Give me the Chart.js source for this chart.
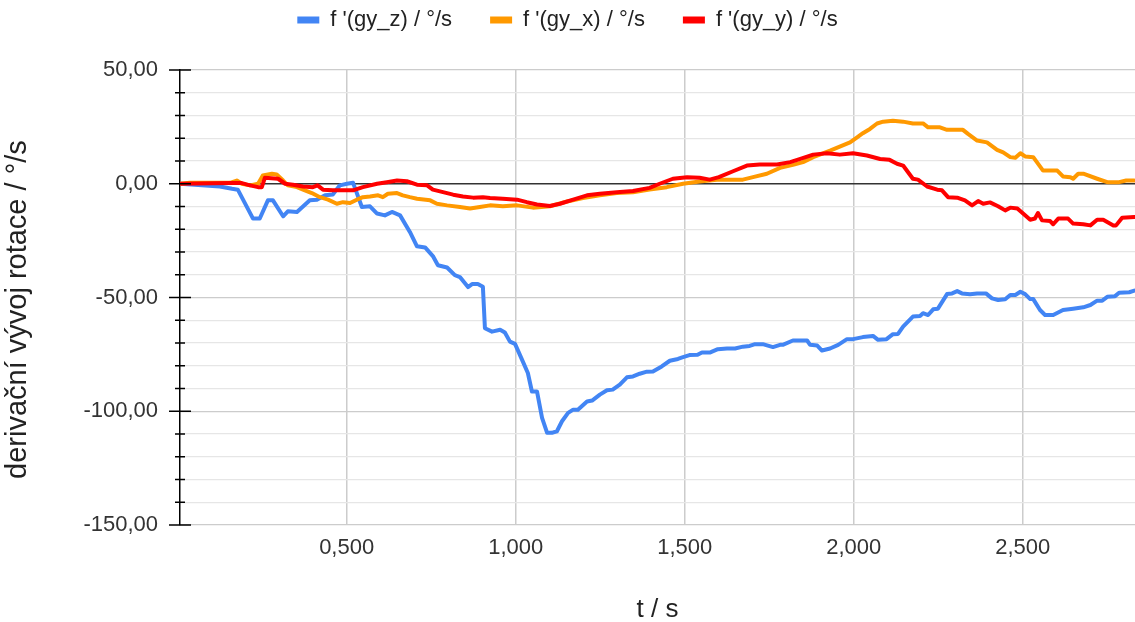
<!DOCTYPE html>
<html>
<head>
<meta charset="utf-8">
<script src="https://cdn.jsdelivr.net/npm/chart.js@4.4.1/dist/chart.umd.min.js"></script>
<style>
  html, body { margin: 0; padding: 0; background: #fff; }
  #c { display: block; }
</style>
</head>
<body>
<canvas id="c" width="1135" height="622"></canvas>
<script>
// ---- data (t in s, values in °/s) ----
const seriesNames = ["f '(gy_z) / °/s", "f '(gy_x) / °/s", "f '(gy_y) / °/s"];

const tZ = [0.007,0.125,0.161,0.178,0.223,0.243,0.267,0.282,0.312,0.326,0.353,0.391,0.412,0.436,0.459,0.480,0.501,0.519,0.545,0.569,0.590,0.613,0.634,0.658,0.687,0.708,0.732,0.755,0.770,0.797,0.820,0.835,0.859,0.871,0.888,0.903,0.909,0.930,0.954,0.968,0.983,0.998,1.019,1.036,1.048,1.063,1.078,1.093,1.107,1.122,1.137,1.155,1.170,1.184,1.211,1.226,1.249,1.270,1.287,1.308,1.329,1.347,1.367,1.388,1.406,1.432,1.456,1.480,1.495,1.514,1.538,1.551,1.574,1.598,1.625,1.649,1.672,1.692,1.708,1.731,1.761,1.782,1.790,1.820,1.862,1.871,1.892,1.906,1.930,1.954,1.980,1.998,2.027,2.057,2.072,2.097,2.116,2.131,2.146,2.175,2.196,2.205,2.220,2.235,2.249,2.276,2.291,2.306,2.320,2.344,2.365,2.391,2.409,2.427,2.448,2.463,2.478,2.493,2.507,2.522,2.531,2.551,2.566,2.590,2.619,2.649,2.679,2.700,2.720,2.735,2.750,2.773,2.785,2.815,2.830];
const gyZ = [0,-1.2,-2.2,-2.6,-15.3,-15.3,-7.3,-7.3,-14.3,-12.1,-12.4,-7.3,-7.0,-5.1,-4.7,-0.7,0,0.4,-10.2,-9.9,-13.1,-13.9,-12.4,-13.9,-21.2,-27.5,-28.0,-31.8,-35.8,-36.8,-40.2,-41.0,-45.4,-44.1,-44.1,-45.3,-63.5,-65.0,-64.2,-65.4,-69.4,-70.4,-77.4,-83.2,-91.3,-91.3,-102.9,-109.5,-109.5,-108.8,-104.4,-100.7,-99.3,-99.3,-95.7,-95.3,-92.7,-90.8,-90.5,-88.3,-85.1,-84.7,-83.5,-82.6,-82.5,-80.3,-77.8,-77.0,-76.2,-75.3,-75.2,-74.2,-74.2,-72.7,-72.4,-72.4,-71.6,-71.3,-70.5,-70.5,-71.8,-70.8,-70.8,-68.9,-68.9,-70.8,-71.1,-73.3,-72.4,-70.8,-68.3,-68.3,-67.4,-66.9,-68.6,-68.3,-66.1,-66.0,-62.8,-58.4,-58.1,-56.9,-57.7,-55.2,-54.9,-48.5,-48.2,-47.2,-48.2,-48.6,-48.2,-48.2,-50.4,-51.1,-50.8,-48.9,-48.9,-47.5,-48.5,-50.7,-50.7,-55.5,-57.7,-57.7,-55.5,-54.9,-54.3,-53.3,-51.4,-51.4,-49.7,-49.4,-47.9,-47.7,-47.0];

const tX = [0.007,0.036,0.155,0.175,0.190,0.214,0.238,0.252,0.279,0.293,0.312,0.326,0.353,0.371,0.397,0.421,0.445,0.471,0.489,0.510,0.530,0.548,0.569,0.593,0.607,0.622,0.649,0.666,0.687,0.708,0.747,0.767,0.797,0.835,0.865,0.894,0.924,0.962,1.004,1.051,1.101,1.152,1.199,1.249,1.299,1.347,1.396,1.447,1.495,1.544,1.595,1.672,1.702,1.743,1.782,1.820,1.850,1.880,1.909,1.930,1.989,2.010,2.027,2.048,2.069,2.087,2.116,2.146,2.175,2.205,2.220,2.255,2.276,2.323,2.338,2.365,2.394,2.424,2.442,2.463,2.478,2.493,2.507,2.531,2.560,2.602,2.619,2.641,2.649,2.664,2.679,2.720,2.750,2.785,2.806,2.830];
const gyX = [0,0.4,0.4,1.4,0,-0.7,0,3.6,4.4,4.1,1.4,-0.7,-1.5,-2.6,-4.1,-5.9,-7.0,-8.8,-8.1,-8.5,-7.0,-5.9,-5.6,-5.1,-5.9,-4.4,-4.1,-5.1,-5.9,-6.6,-7.3,-8.8,-9.5,-10.2,-10.9,-10.2,-9.5,-9.9,-9.5,-10.5,-9.9,-7.8,-6.3,-5.1,-4.1,-3.7,-2.5,-1.5,0,1.0,1.8,1.8,2.9,4.4,7.0,8.3,9.5,11.7,13.4,14.6,18.2,20.4,22.2,24.1,26.5,27.3,27.7,27.3,26.5,26.5,24.8,24.8,23.7,23.7,21.9,19.0,18.2,14.9,13.8,11.7,11.4,13.4,12.0,11.7,5.8,5.8,3.2,2.9,2.2,4.4,4.4,2.2,0.7,0.7,1.4,1.4];

const tY = [0.007,0.155,0.190,0.214,0.238,0.249,0.258,0.297,0.318,0.341,0.371,0.400,0.414,0.430,0.459,0.519,0.548,0.590,0.619,0.649,0.678,0.708,0.738,0.755,0.785,0.815,0.844,0.874,0.903,0.924,0.962,1.004,1.033,1.063,1.101,1.131,1.170,1.211,1.249,1.299,1.347,1.396,1.426,1.465,1.507,1.544,1.574,1.601,1.643,1.684,1.722,1.773,1.812,1.842,1.880,1.921,1.959,1.998,2.039,2.078,2.106,2.128,2.146,2.175,2.190,2.217,2.247,2.261,2.279,2.306,2.329,2.350,2.368,2.383,2.403,2.427,2.448,2.463,2.484,2.501,2.522,2.536,2.545,2.557,2.581,2.590,2.605,2.634,2.649,2.679,2.700,2.720,2.738,2.768,2.776,2.794,2.830];
const gyY = [0,0.3,0.3,-0.7,-1.5,-1.5,2.6,2.2,0,-0.4,-1.2,-1.5,-0.7,-2.6,-2.9,-2.9,-1.5,0,0.7,1.4,1.1,-0.4,-0.7,-2.6,-3.7,-4.8,-5.6,-6.1,-5.9,-6.3,-6.6,-7.0,-8.1,-9.1,-9.8,-8.8,-7.0,-5.1,-4.4,-3.7,-3.2,-1.8,0,2.2,2.9,2.6,1.8,2.9,5.5,8.0,8.5,8.5,9.5,10.9,12.8,13.4,12.8,13.4,12.4,10.9,10.5,8.8,8.0,2.2,1.8,-1.2,-2.6,-2.9,-5.9,-6.1,-7.3,-9.5,-7.6,-8.8,-8.2,-9.9,-11.7,-10.5,-10.9,-13.1,-15.8,-15.3,-12.9,-16.1,-16.4,-17.8,-15.3,-15.3,-17.5,-17.8,-18.3,-15.8,-15.8,-18.3,-18.3,-14.9,-14.6];

const xTickStep = 0.5;
const yTickStep = 10;
const yMajorStep = 50;
const xMin = 0.007, xMax = 2.832;
const yMin = -150, yMax = 50;

const colors = ['#4285F4', '#FF9900', '#FF0000'];

function pts(ts, vs) { return ts.map((t, i) => ({ x: t, y: vs[i] })); }

const FONT = "'Liberation Sans', Arial, sans-serif";

const legendHeightPlugin = {
  id: 'legendHeight',
  beforeInit(chart) {
    const lg = chart.legend;
    if (!lg) return;
    const orig = lg.fit;
    lg.fit = function () { orig.call(lg); lg.height = 99; };
  }
};

const axisTicksPlugin = {
  id: 'axisTicks',
  afterDraw(chart) {
    const ys = chart.scales.y;
    const ctx = chart.ctx;
    const x0 = ys.right;
    ctx.save();
    ctx.strokeStyle = '#000';
    ctx.lineWidth = 1.5;
    ys.ticks.forEach(t => {
      const py = ys.getPixelForValue(t.value);
      const len = (t.value % yMajorStep === 0) ? 11 : 5;
      ctx.beginPath();
      ctx.moveTo(x0 - len, py);
      ctx.lineTo(x0 + len, py);
      ctx.stroke();
    });
    ctx.restore();
  }
};

new Chart(document.getElementById('c'), {
  type: 'line',
  data: {
    datasets: [
      { label: seriesNames[0], data: pts(tZ, gyZ), borderColor: colors[0], backgroundColor: colors[0], order: 2 },
      { label: seriesNames[1], data: pts(tX, gyX), borderColor: colors[1], backgroundColor: colors[1], order: 1 },
      { label: seriesNames[2], data: pts(tY, gyY), borderColor: colors[2], backgroundColor: colors[2], order: 0 }
    ]
  },
  options: {
    responsive: false,
    animation: false,
    devicePixelRatio: 1,
    elements: {
      line: { borderWidth: 4, tension: 0, borderJoinStyle: 'round', borderCapStyle: 'round' },
      point: { radius: 0, hoverRadius: 0 }
    },
    layout: { padding: { top: -29, left: 0, right: 0, bottom: 0 } },
    plugins: {
      tooltip: { enabled: false },
      legend: {
        position: 'top',
        align: 'center',
        labels: {
          boxWidth: 22,
          boxHeight: 7,
          padding: 38,
          color: '#222',
          font: { family: FONT, size: 22 },
          sort: (a, b) => a.datasetIndex - b.datasetIndex,
          generateLabels: (chart) => Chart.defaults.plugins.legend.labels.generateLabels(chart)
            .map(l => Object.assign({}, l, { lineWidth: 0, fillStyle: l.strokeStyle }))
        }
      }
    },
    scales: {
      x: {
        type: 'linear',
        min: xMin,
        max: xMax,
        afterFit: (s) => { s.height = 97; },
        border: { display: false },
        grid: { color: '#cccccc', lineWidth: 1.5, drawTicks: false },
        ticks: {
          stepSize: xTickStep,
          includeBounds: false,
          autoSkip: false,
          maxRotation: 0,
          padding: 10,
          color: '#333',
          font: { family: FONT, size: 22 },
          callback: (v) => Number(v).toFixed(3).replace('.', ',')
        },
        title: {
          display: true,
          text: 't / s',
          color: '#222',
          font: { family: FONT, size: 26, lineHeight: 1 },
          padding: { top: 0, bottom: -1 }
        }
      },
      y: {
        type: 'linear',
        min: yMin,
        max: yMax,
        afterFit: (s) => { s.width = 180; },
        border: { display: true, color: '#000', width: 1.5 },
        grid: {
          drawTicks: false,
          color: (c) => c.tick.value === 0 ? '#333333' : (c.tick.value % yMajorStep === 0 ? '#cccccc' : '#e6e6e6'),
          lineWidth: (c) => c.tick.value === 0 ? 1.5 : 1.3
        },
        ticks: {
          stepSize: yTickStep,
          autoSkip: false,
          padding: 22,
          color: '#333',
          font: { family: FONT, size: 22 },
          callback: (v) => (v % yMajorStep === 0) ? Number(v).toFixed(2).replace('.', ',') : ''
        },
        title: {
          display: true,
          text: 'derivační vývoj rotace / °/s   ',
          color: '#222',
          font: { family: FONT, size: 29, lineHeight: 1 },
          padding: { top: 3, bottom: 0 }
        }
      }
    }
  },
  plugins: [legendHeightPlugin, axisTicksPlugin]
});
</script>
</body>
</html>
